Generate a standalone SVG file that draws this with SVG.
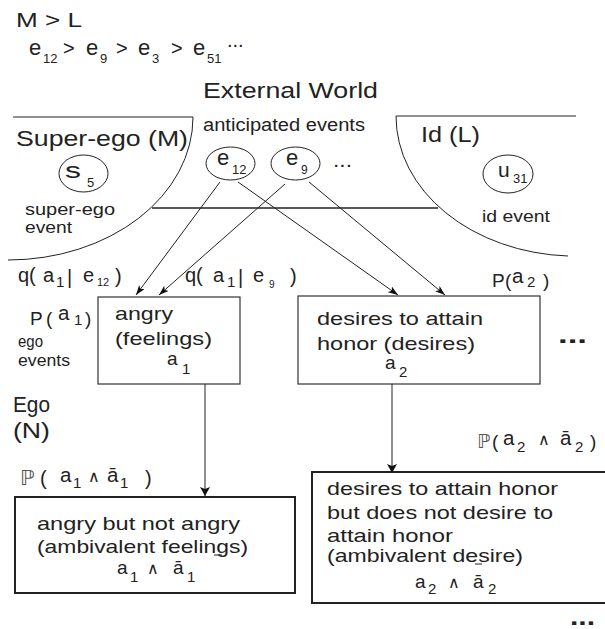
<svg xmlns="http://www.w3.org/2000/svg" width="605" height="629" viewBox="0 0 605 629">
<defs>
<style>
text{font-family:"Liberation Sans",Arial,sans-serif;fill:#222}
.f22{font-size:22px}.f19{font-size:19px}.f16{font-size:16px}.s15{font-size:15px}.s13{font-size:13px}
.va{font-size:20.5px}
.sym{font-family:"DejaVu Sans",sans-serif;font-size:16px}
.bb{font-family:"DejaVu Sans",sans-serif;fill:#555}
.ln{fill:none;stroke:#222;stroke-width:1}
.box{fill:#fff;stroke:#333;stroke-width:1.2}
.box2{fill:#fff;stroke:#222;stroke-width:2}
.ev{fill:#fff;stroke:#222;stroke-width:1}
.bold{font-weight:bold}
</style>
<marker id="ah" markerUnits="userSpaceOnUse" markerWidth="11" markerHeight="8" refX="10" refY="3.5" orient="auto"><path d="M0,0 L10,3.5 L0,7 L2.5,3.5 z" fill="#111"/></marker>
<marker id="ahs" markerUnits="userSpaceOnUse" markerWidth="10" markerHeight="11" refX="9" refY="5" orient="auto"><path d="M0,0 L9,5 L0,10 L2,5 z" fill="#111"/></marker>
</defs>
<rect width="605" height="629" fill="#fff"/>

<g id="header">
<text x="16" y="27" style="font-size:20px" textLength="66" lengthAdjust="spacingAndGlyphs">M &gt; L</text>
<text class="f22"><tspan x="29" y="55">e</tspan><tspan x="43" y="63" class="s13">12</tspan><tspan x="63" y="55" style="font-size:20px">&gt;</tspan><tspan x="86" y="55">e</tspan><tspan x="100" y="63" class="s13">9</tspan><tspan x="116" y="55" style="font-size:20px">&gt;</tspan><tspan x="138" y="55">e</tspan><tspan x="152" y="63" class="s13">3</tspan><tspan x="171" y="55" style="font-size:20px">&gt;</tspan><tspan x="193" y="55">e</tspan><tspan x="207" y="63" class="s13">51</tspan><tspan x="227" y="47" style="font-size:20px">...</tspan></text>
<text class="f22" x="203" y="98" textLength="175" lengthAdjust="spacingAndGlyphs">External World</text>
<text x="203" y="131" style="font-size:17.5px" textLength="162" lengthAdjust="spacingAndGlyphs">anticipated events</text>
</g>

<g id="superego">
<path class="ln" d="M13,117 L193,117 M193,117 A185,143 0 0 1 8,260"/>
<text class="f22" x="16" y="146" textLength="172" lengthAdjust="spacingAndGlyphs">Super-ego (M)</text>
<text class="f16" x="25" y="215" textLength="90" lengthAdjust="spacingAndGlyphs">super-ego</text>
<text class="f16" x="25" y="233" textLength="47" lengthAdjust="spacingAndGlyphs">event</text>
</g>
<g id="s5">
<ellipse class="ev" cx="83.5" cy="173.5" rx="24.5" ry="18.5"/>
<text class="f22" x="65" y="178" textLength="16" lengthAdjust="spacingAndGlyphs">s</text>
<text class="s13" x="87" y="187">5</text>
</g>

<g id="id">
<path class="ln" d="M396,116 L576,116 M396,116 A180,140 0 0 0 568,256"/>
<text class="f22" x="421" y="142" textLength="59" lengthAdjust="spacingAndGlyphs">Id (L)</text>
<text x="482" y="222" style="font-size:16.5px" textLength="68" lengthAdjust="spacingAndGlyphs">id event</text>
</g>
<g id="u31">
<ellipse class="ev" cx="508" cy="174" rx="25" ry="19"/>
<text x="498" y="177" style="font-size:21px">u</text>
<text class="s13" x="513" y="183">31</text>
</g>

<g id="e12">
<ellipse class="ev" cx="230.5" cy="163.5" rx="24.5" ry="16.5"/>
<text class="f22" x="217" y="165">e</text>
<text class="s13" x="232" y="174">12</text>
</g>
<g id="e9">
<ellipse class="ev" cx="295.5" cy="163.5" rx="24.5" ry="16.5"/>
<text class="f22" x="286" y="165">e</text>
<text x="301" y="174" style="font-size:12px">9</text>
</g>
<g id="events-more">
<text x="333" y="167" style="font-size:20px" textLength="19" lengthAdjust="spacingAndGlyphs">...</text>
</g>

<g id="q-labels">
<text style="font-size:20px"><tspan x="18" y="282">q(</tspan><tspan x="43" y="282">a</tspan><tspan x="56" y="287" class="s15">1</tspan><tspan x="67" y="284">|</tspan><tspan x="83" y="282">e</tspan><tspan x="97" y="286" style="font-size:11px">12</tspan><tspan x="115" y="283">)</tspan></text>
<text style="font-size:20px"><tspan x="185" y="282">q(</tspan><tspan x="213" y="282">a</tspan><tspan x="227" y="287" class="s15">1</tspan><tspan x="238" y="284">|</tspan><tspan x="253" y="282">e</tspan><tspan x="269" y="288" style="font-size:10px">9</tspan><tspan x="290" y="283">)</tspan></text>
</g>

<g id="a1">
<rect class="box" x="98" y="297" width="142" height="87"/>
<text class="f19" x="115" y="320" textLength="58" lengthAdjust="spacingAndGlyphs">angry</text>
<text class="f19" x="115" y="345" textLength="97" lengthAdjust="spacingAndGlyphs">(feelings)</text>
<text class="f19" x="167" y="365">a</text>
<text class="s15" x="182" y="374">1</text>
</g>
<g id="ego-labels">
<text class="f19"><tspan x="30" y="325">P</tspan><tspan x="46" y="325">(</tspan><tspan x="58" y="320" class="va">a</tspan><tspan x="74" y="325" class="s15">1</tspan><tspan x="85" y="325">)</tspan></text>
<text class="f16" x="18" y="347" textLength="25" lengthAdjust="spacingAndGlyphs">ego</text>
<text class="f16" x="18" y="366" textLength="52" lengthAdjust="spacingAndGlyphs">events</text>
<text class="f22" x="13" y="412" textLength="37" lengthAdjust="spacingAndGlyphs">Ego</text>
<text class="f22" x="13" y="438" textLength="37" lengthAdjust="spacingAndGlyphs">(N)</text>
</g>

<g id="a2">
<rect class="box" x="298" y="296" width="242" height="88"/>
<text class="f19" x="317" y="325" textLength="166" lengthAdjust="spacingAndGlyphs">desires to attain</text>
<text class="f19" x="317" y="350" textLength="158" lengthAdjust="spacingAndGlyphs">honor (desires)</text>
<text class="f19" x="385" y="369">a</text>
<text class="s15" x="399" y="377">2</text>
</g>
<g id="p-a2">
<text class="f19"><tspan x="492" y="287">P</tspan><tspan x="505" y="287">(</tspan><tspan x="512" y="283" class="va">a</tspan><tspan x="527" y="287" class="s15">2</tspan><tspan x="543" y="287">)</tspan></text>
</g>
<g id="more-right">
<text class="bold" x="558" y="343" style="font-size:24px" textLength="29" lengthAdjust="spacingAndGlyphs">...</text>
</g>

<g id="a1-amb">
<rect class="box2" x="15" y="497" width="280" height="96"/>
<text class="f19" x="37" y="530" textLength="203" lengthAdjust="spacingAndGlyphs">angry but not angry</text>
<text class="f19" x="37" y="553" textLength="211" lengthAdjust="spacingAndGlyphs">(ambivalent feelings)</text>
<line x1="214" y1="555" x2="222" y2="555" stroke="#222" stroke-width="1"/>
<text class="f19"><tspan x="117" y="574">a</tspan><tspan x="130" y="582" class="s15">1</tspan><tspan x="147" y="574" class="sym">∧</tspan><tspan x="173" y="574">ā</tspan><tspan x="187" y="582" class="s15">1</tspan></text>
</g>
<g id="p-a1-amb">
<text class="va"><tspan x="20" y="485" class="bb" style="font-size:21px">ℙ</tspan><tspan x="40" y="485" style="font-size:20px">(</tspan><tspan x="60" y="482">a</tspan><tspan x="73" y="488" class="s15">1</tspan><tspan x="88" y="482" class="sym">∧</tspan><tspan x="107" y="482">ā</tspan><tspan x="120" y="488" class="s15">1</tspan><tspan x="145" y="485" style="font-size:20px">)</tspan></text>
</g>

<g id="a2-amb">
<rect class="box2" x="312" y="472" width="300" height="131"/>
<text class="f19" x="327" y="495" textLength="231" lengthAdjust="spacingAndGlyphs">desires to attain honor</text>
<text class="f19" x="327" y="519" textLength="226" lengthAdjust="spacingAndGlyphs">but does not desire to</text>
<text class="f19" x="327" y="542" textLength="126" lengthAdjust="spacingAndGlyphs">attain honor</text>
<text class="f19" x="327" y="562" textLength="196" lengthAdjust="spacingAndGlyphs">(ambivalent desire)</text>
<line x1="475" y1="564" x2="482" y2="564" stroke="#222" stroke-width="1"/>
<text class="f19"><tspan x="415" y="588">a</tspan><tspan x="428" y="594" class="s15">2</tspan><tspan x="448" y="588" class="sym">∧</tspan><tspan x="473" y="588">ā</tspan><tspan x="488" y="594" class="s15">2</tspan></text>
</g>
<g id="p-a2-amb">
<text class="va"><tspan x="477" y="448" class="bb" style="font-size:19px">ℙ</tspan><tspan x="492" y="448" style="font-size:19px">(</tspan><tspan x="503" y="445">a</tspan><tspan x="517" y="452" class="s15">2</tspan><tspan x="538" y="445" class="sym">∧</tspan><tspan x="560" y="445">ā</tspan><tspan x="575" y="452" class="s15">2</tspan><tspan x="590" y="448" style="font-size:19px">)</tspan></text>
</g>
<g id="more-bottom">
<text class="bold" x="570" y="625" style="font-size:24px" textLength="25" lengthAdjust="spacingAndGlyphs">...</text>
</g>

<g id="connectors">
<line x1="152" y1="208" x2="438" y2="208" stroke="#222" stroke-width="1.6"/>
<line class="ln" x1="220" y1="182" x2="136" y2="295" marker-end="url(#ah)"/>
<line class="ln" x1="285" y1="184" x2="159" y2="295" marker-end="url(#ah)"/>
<line class="ln" x1="238" y1="182" x2="398" y2="295" marker-end="url(#ah)"/>
<line class="ln" x1="309" y1="182" x2="445" y2="295" marker-end="url(#ah)"/>
<line class="ln" x1="205" y1="384" x2="205" y2="496" marker-end="url(#ahs)"/>
<line class="ln" x1="392" y1="384" x2="392" y2="473" marker-end="url(#ahs)"/>
</g>
</svg>
